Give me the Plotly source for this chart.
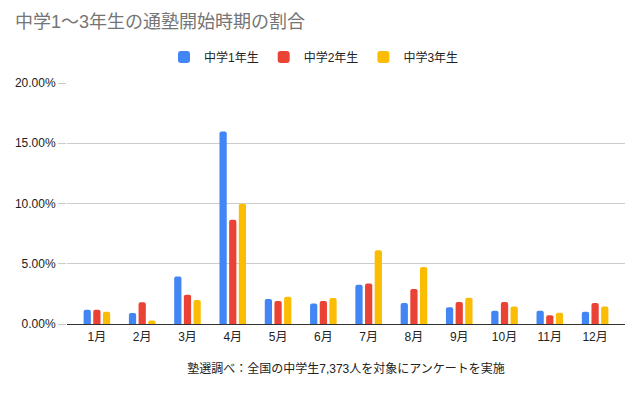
import plotly.graph_objects as go

months = ["1月", "2月", "3月", "4月", "5月", "6月", "7月", "8月", "9月", "10月", "11月", "12月"]
grade1 = [1.19, 0.91, 3.95, 15.97, 2.07, 1.71, 3.26, 1.74, 1.38, 1.10, 1.10, 1.02]
grade2 = [1.19, 1.80, 2.43, 8.65, 1.91, 1.91, 3.37, 2.90, 1.82, 1.82, 0.72, 1.74]
grade3 = [1.02, 0.30, 1.99, 9.97, 2.27, 2.15, 6.13, 4.72, 2.18, 1.46, 0.94, 1.46]
series_names = ["中学1年生", "中学2年生", "中学3年生"]
colors = ["#4285F4", "#EA4335", "#FBBC04"]
y_ticks = [0, 5, 10, 15, 20]
y_tick_labels = ["0.00%", "5.00%", "10.00%", "15.00%", "20.00%"]

font = "Liberation Sans, Arial, Noto Sans CJK JP, sans-serif"

fig = go.Figure()
for name, vals, c in zip(series_names, [grade1, grade2, grade3], colors):
    fig.add_trace(go.Bar(x=months, y=vals, name=name, marker=dict(color=c, line=dict(width=0))))

fig.update_layout(
    width=640, height=395,
    margin=dict(l=59, r=23, t=75, b=79, autoexpand=False),
    paper_bgcolor="white", plot_bgcolor="white",
    font=dict(family=font, size=12, color="#222222"),
    title=dict(text="中学1〜3年生の通塾開始時期の割合", x=7 / 640, xanchor="left", xref="container",
               y=1 - 14 / 395, yanchor="middle", yref="container",
               font=dict(size=18, color="#757575", family=font)),
    legend=dict(orientation="h", x=0.5 - 14 / 640, xanchor="center", xref="container",
                y=1 - 49 / 395, yanchor="middle", yref="container",
                font=dict(size=12, color="#222222"), traceorder="normal", itemwidth=30),
    bargap=0.36, bargroupgap=0.25,
    barcornerradius=2,
)
fig.update_xaxes(showgrid=False, ticks="outside", ticklen=2, tickcolor="rgba(0,0,0,0)", automargin=False,
                 range=[-0.66, 11.66],
                 tickfont=dict(size=12, color="#222222"),
                 title=dict(text="塾選調べ：全国の中学生7,373人を対象にアンケートを実施",
                            font=dict(size=12, color="#222222"), standoff=21))
fig.update_yaxes(range=[0, 20], tickvals=y_ticks, ticktext=y_tick_labels, showgrid=True, automargin=False,
                 gridcolor="#cccccc", gridwidth=1, zeroline=True, zerolinecolor="#333333", zerolinewidth=1,
                 ticks="outside", ticklen=8, tickcolor="#cccccc",
                 tickfont=dict(size=12, color="#222222"))

fig.write_html("out.html")
